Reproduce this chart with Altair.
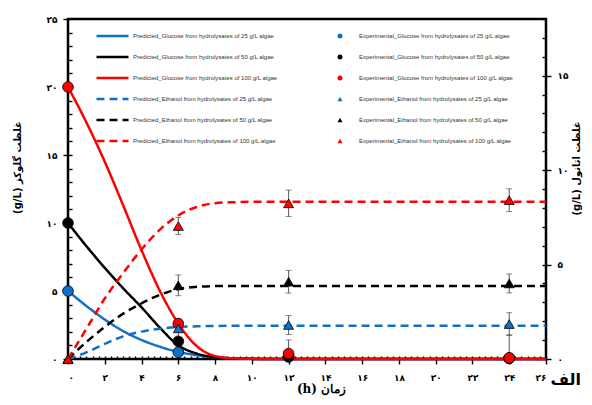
import altair as alt
import pandas as pd

# ---------------- data ----------------
T_PRED = [0, 1, 2, 3, 4, 5, 6, 7, 8, 9, 10, 11, 12, 14, 16, 18, 20, 22, 24, 26]

PRED_GLU_25 = [5.0, 3.9, 2.9, 2.05, 1.4, 0.9, 0.52, 0.28, 0.13, 0.05, 0.02, 0, 0, 0, 0, 0, 0, 0, 0, 0]
PRED_GLU_50 = [10.0, 8.3, 6.7, 5.2, 3.8, 2.3, 1.0, 0.4, 0.12, 0.03, 0.01, 0, 0, 0, 0, 0, 0, 0, 0, 0]
PRED_GLU_100 = [20.0, 17.4, 14.5, 11.3, 8.0, 5.0, 2.6, 0.95, 0.22, 0.05, 0.01, 0, 0, 0, 0, 0, 0, 0, 0, 0]

PRED_ETH_25 = [0, 0.35, 0.8, 1.2, 1.45, 1.6, 1.69, 1.73, 1.75, 1.76, 1.76, 1.76, 1.76, 1.76, 1.76, 1.76, 1.76, 1.76, 1.76, 1.76]
PRED_ETH_50 = [0, 0.9, 1.7, 2.4, 2.95, 3.4, 3.7, 3.82, 3.86, 3.87, 3.87, 3.87, 3.87, 3.87, 3.87, 3.87, 3.87, 3.87, 3.87, 3.87]
PRED_ETH_100 = [0, 1.6, 3.2, 4.55, 5.8, 6.85, 7.6, 8.05, 8.25, 8.3, 8.32, 8.32, 8.32, 8.32, 8.32, 8.32, 8.32, 8.32, 8.32, 8.32]

T_EXP = [0, 6, 12, 24]
EXP_GLU_25 = [5.0, 0.5, 0.15, 0.05]
EXP_GLU_50 = [10.0, 1.3, 0.2, 0.05]
EXP_GLU_100 = [20.0, 2.6, 0.4, 0.08]
ERR_GLU_25 = [0, 0, 0, 0]
ERR_GLU_50 = [0, 0, 0, 0]
ERR_GLU_100 = [0, 0.3, 1.0, 1.7]

EXP_ETH_25 = [0, 1.62, 1.8, 1.85]
EXP_ETH_50 = [0, 3.9, 4.09, 4.0]
EXP_ETH_100 = [0, 7.04, 8.24, 8.41]
ERR_ETH_25 = [0, 0.5, 0.5, 0.6]
ERR_ETH_50 = [0, 0.55, 0.6, 0.5]
ERR_ETH_100 = [0, 0.45, 0.7, 0.6]

PRED_NAMES = [
    "Predicted_Glucose from hydrolysates of 25 g/L algae",
    "Predicted_Glucose from hydrolysates of 50 g/L algae",
    "Predicted_Glucose from hydrolysates of 100 g/L algae",
    "Predicted_Ethanol from hydrolysates of 25 g/L algae",
    "Predicted_Ethanol from hydrolysates of 50 g/L algae",
    "Predicted_Ethanol from hydrolysates of 100 g/L algae",
]
EXP_NAMES = [
    "Experimental_Glucose from hydrolysates of 25 g/L algae",
    "Experimental_Glucose from hydrolysates of 50 g/L algae",
    "Experimental_Glucose from hydrolysates of 100 g/L algae",
    "Experimental_Ethanol from hydrolysates of 25 g/L algae",
    "Experimental_Ethanol from hydrolysates of 50 g/L algae",
    "Experimental_Ethanol from hydrolysates of 100 g/L algae",
]
COLORS = ["#1070C8", "#000000", "#FF0000", "#1070C8", "#000000", "#FF0000"]

X_TITLE = "(h) زمان"
Y_LEFT_TITLE = "(g/L) غلظت گلوکز"
Y_RIGHT_TITLE = "(g/L) غلظت اتانول"
PANEL_LABEL = ["الف"]

X_MAJOR = list(range(0, 27, 2))
X_MINOR = [i / 3 for i in range(0, 79)]
G_MAJOR = [0, 5, 10, 15, 20, 25]
G_MINOR = list(range(0, 26))
E_MAJOR = [0, 5, 10, 15]
E_MINOR = list(range(0, 19))

# ---------------- tables ----------------
def long_pred(t, series, names):
    rows = []
    for vals, name in zip(series, names):
        for ti, v in zip(t, vals):
            rows.append({"t": ti, "v": v, "series": name})
    return pd.DataFrame(rows)


def long_exp(t, series, errs, names):
    rows = []
    for vals, ers, name in zip(series, errs, names):
        for ti, v, e in zip(t, vals, ers):
            rows.append({"t": ti, "v": v, "err": e, "lo": max(v - e, 0), "hi": v + e, "series": name})
    return pd.DataFrame(rows)


pred_glu = long_pred(T_PRED, [PRED_GLU_25, PRED_GLU_50, PRED_GLU_100], PRED_NAMES[:3])
pred_eth = long_pred(T_PRED, [PRED_ETH_25, PRED_ETH_50, PRED_ETH_100], PRED_NAMES[3:])
exp_glu = long_exp(T_EXP, [EXP_GLU_25, EXP_GLU_50, EXP_GLU_100], [ERR_GLU_25, ERR_GLU_50, ERR_GLU_100], EXP_NAMES[:3])
exp_eth = long_exp(T_EXP, [EXP_ETH_25, EXP_ETH_50, EXP_ETH_100], [ERR_ETH_25, ERR_ETH_50, ERR_ETH_100], EXP_NAMES[3:])
err_glu = exp_glu[exp_glu["err"] > 0]
err_eth = exp_eth[exp_eth["err"] > 0]

# ---------------- helpers ----------------
def fa_digits(expr):
    for d, f in zip("0123456789", "۰۱۲۳۴۵۶۷۸۹"):
        expr = f"replace({expr}, /{d}/g, '{f}')"
    return expr


LABEL_EXPR = fa_digits("datum.label")
W, H = 478, 340

xs = lambda: alt.Scale(domain=[0, 26], nice=False, zero=False)
gs = lambda: alt.Scale(domain=[0, 25], nice=False)
es = lambda: alt.Scale(domain=[0, 18], nice=False)

axis_common = dict(domain=False, grid=False, tickColor="black", tickWidth=1.4)

x_main_axis = alt.Axis(orient="bottom", values=X_MAJOR, tickSize=5, labelExpr=LABEL_EXPR,
                       labelFont="DejaVu Sans", labelFontSize=9, labelFontWeight="bold",
                       labelPadding=9, labelColor="black",
                       title=X_TITLE, titleFont="DejaVu Serif", titleFontSize=12, titleFontWeight="bold",
                       titleX=253, titleY=29, titleAlign="center", titleBaseline="middle",
                       **axis_common)
x_minor_axis = alt.Axis(orient="top", offset=-H, values=X_MINOR, tickSize=3, labels=False,
                        title=None, **axis_common)
g_main_axis = alt.Axis(orient="left", values=G_MAJOR, tickSize=5, labelExpr=LABEL_EXPR,
                       labelFont="DejaVu Sans", labelFontSize=9, labelFontWeight="bold",
                       labelPadding=6, labelColor="black",
                       title=Y_LEFT_TITLE, titleFont="DejaVu Sans", titleFontSize=10, titleFontWeight="bold",
                       titleAngle=-90, titleX=-51, titleY=148, titleAlign="center", titleBaseline="middle",
                       **axis_common)
g_minor_axis = alt.Axis(orient="right", offset=-W, values=G_MINOR, tickSize=4, labels=False,
                        title=None, **axis_common)
e_main_axis = alt.Axis(orient="right", values=E_MAJOR, tickSize=5, labelExpr=LABEL_EXPR,
                       labelFont="DejaVu Sans", labelFontSize=9, labelFontWeight="bold",
                       labelPadding=6, labelColor="black",
                       title=Y_RIGHT_TITLE, titleFont="DejaVu Sans", titleFontSize=10, titleFontWeight="bold",
                       titleAngle=-90, titleX=30, titleY=149, titleAlign="center", titleBaseline="middle",
                       **axis_common)
e_minor_axis = alt.Axis(orient="left", offset=-W, values=E_MINOR, tickSize=4, labels=False,
                        title=None, **axis_common)

color_scale = alt.Scale(domain=PRED_NAMES, range=COLORS)
dash_scale = alt.Scale(domain=PRED_NAMES, range=[[1, 0]] * 3 + [[8, 5]] * 3)
fill_scale = alt.Scale(domain=EXP_NAMES, range=COLORS)
shape_scale = alt.Scale(domain=EXP_NAMES, range=["circle"] * 3 + ["triangle-up"] * 3)

leg_pred = alt.Legend(title=None, orient="none", legendX=27, legendY=11, padding=0,
                      symbolType="stroke", symbolSize=1024, symbolStrokeWidth=2.5,
                      labelFont="Liberation Sans", labelFontSize=6, labelColor="#333333",
                      labelLimit=400, labelOffset=3, clipHeight=12, rowPadding=9)
leg_exp = alt.Legend(title=None, orient="none", legendX=269, legendY=11, padding=0,
                     symbolSize=25, symbolStrokeWidth=0,
                     labelFont="Liberation Sans", labelFontSize=6, labelColor="#333333",
                     labelLimit=400, labelOffset=16, clipHeight=12, rowPadding=9)

# ---------------- layers ----------------
glu_lines = alt.Chart(pred_glu).mark_line(strokeWidth=2.5, interpolate="monotone").encode(
    x=alt.X("t:Q", scale=xs(), axis=x_main_axis),
    y=alt.Y("v:Q", scale=gs(), axis=g_main_axis),
    color=alt.Color("series:N", scale=color_scale, legend=leg_pred),
    strokeDash=alt.StrokeDash("series:N", scale=dash_scale, legend=leg_pred),
)
eth_lines = alt.Chart(pred_eth).mark_line(strokeWidth=2.5, interpolate="monotone").encode(
    x=alt.X("t:Q", scale=xs(), axis=x_minor_axis),
    y=alt.Y("v:Q", scale=es(), axis=e_main_axis),
    color=alt.Color("series:N", scale=color_scale, legend=leg_pred),
    strokeDash=alt.StrokeDash("series:N", scale=dash_scale, legend=leg_pred),
)
glu_err = alt.Chart(err_glu).mark_errorbar(ticks=True, size=6, thickness=0.9, color="#444444").encode(
    x=alt.X("t:Q", scale=xs(), axis=None),
    y=alt.Y("lo:Q", scale=gs(), axis=None, title=None),
    y2="hi:Q",
)
eth_err = alt.Chart(err_eth).mark_errorbar(ticks=True, size=6, thickness=0.9, color="#444444").encode(
    x=alt.X("t:Q", scale=xs(), axis=None),
    y=alt.Y("lo:Q", scale=es(), axis=None, title=None),
    y2="hi:Q",
)
glu_pts = alt.Chart(exp_glu).mark_point(filled=True, size=115, stroke="black", strokeWidth=0.8, opacity=1).encode(
    x=alt.X("t:Q", scale=xs(), axis=None),
    y=alt.Y("v:Q", scale=gs(), axis=g_minor_axis),
    fill=alt.Fill("series:N", scale=fill_scale, legend=leg_exp),
    shape=alt.Shape("series:N", scale=shape_scale, legend=leg_exp),
)
eth_pts = alt.Chart(exp_eth).mark_point(filled=True, size=100, stroke="black", strokeWidth=0.8, opacity=1).encode(
    x=alt.X("t:Q", scale=xs(), axis=None),
    y=alt.Y("v:Q", scale=es(), axis=e_minor_axis),
    fill=alt.Fill("series:N", scale=fill_scale, legend=leg_exp),
    shape=alt.Shape("series:N", scale=shape_scale, legend=leg_exp),
)
panel = alt.Chart(pd.DataFrame({"label": PANEL_LABEL})).mark_text(
    font="DejaVu Sans", fontSize=16, fontWeight="bold", align="right", baseline="middle", color="black"
).encode(text="label:N", x=alt.value(513), y=alt.value(361))

chart = alt.layer(glu_lines, eth_lines, glu_err, eth_err, glu_pts, eth_pts, panel).resolve_scale(
    x="independent", y="independent"
).properties(
    width=W, height=H,
    autosize=alt.AutoSizeParams(type="none"),
    padding={"left": 60, "top": 11, "right": 38, "bottom": 38},
    background="white",
).configure_view(stroke="black", strokeWidth=2.5)

chart.save("out.html", embed_options={"renderer": "svg", "actions": False})
